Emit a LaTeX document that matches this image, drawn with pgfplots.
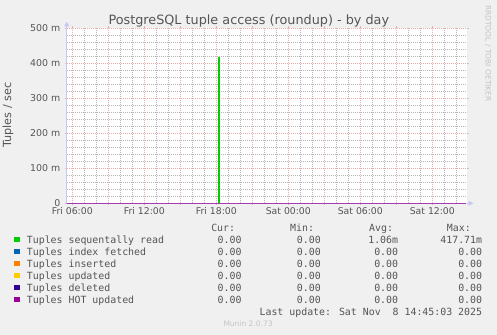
\documentclass[border=0pt]{standalone}
\usepackage{pgfplots}
\pgfplotsset{compat=1.18}
\usepackage{fontspec}
\setmainfont{DejaVu Sans}
\newfontfamily\mono{DejaVu Sans Mono}
\usetikzlibrary{arrows.meta}
\definecolor{bgc}{HTML}{F0F0F0}
\definecolor{txt}{HTML}{555555}
\definecolor{faint}{HTML}{C4C4C4}
\definecolor{mgrid}{HTML}{EDB0B0}
\definecolor{ngrid}{HTML}{B8B8B8}
\definecolor{axc}{HTML}{C8C8F5}
\definecolor{cA}{HTML}{00CC00}
\definecolor{cB}{HTML}{0066B3}
\definecolor{cC}{HTML}{FF8000}
\definecolor{cD}{HTML}{FFCC00}
\definecolor{cE}{HTML}{330099}
\definecolor{cF}{HTML}{990099}
\begin{document}
\begin{tikzpicture}
\fill[bgc] (0bp,0bp) rectangle (497bp,335bp);
\begin{axis}[
  at={(66.7bp,131.7bp)}, anchor=south west,
  width=400bp, height=175bp, scale only axis,
  xmin=5.533, xmax=38.866, ymin=0, ymax=500,
  axis background/.style={fill=white},
  axis line style={draw=none},
  xtick={6,12,18,24,30,36},
  xticklabels={Fri 06:00,Fri 12:00,Fri 18:00,Sat 00:00,Sat 06:00,Sat 12:00},
  extra x ticks={9,15,21,27,33},
  extra x tick labels={},
  minor xtick={7,8,10,11,13,14,16,17,19,20,22,23,25,26,28,29,31,32,34,35,37,38},
  ytick={0,100,200,300,400,500},
  yticklabels={0,100 m,200 m,300 m,400 m,500 m},
  minor ytick={20,40,60,80,120,140,160,180,220,240,260,280,320,340,360,380,420,440,460,480},
  grid=both,
  major grid style={draw=mgrid, line width=0.9bp, dash pattern=on 1bp off 1bp},
  minor grid style={draw=ngrid, line width=0.9bp, dash pattern=on 1bp off 1bp},
  tick align=outside, major tick length=2bp, minor tick length=0bp,
  x tick style={draw=mgrid, line width=0.8bp},
  y tick style={draw=faint, line width=0.8bp},
  xticklabel style={font=\fontsize{9.3bp}{11bp}\selectfont, text=txt, inner sep=0pt, yshift=-2.2bp},
  yticklabel style={font=\fontsize{9.4bp}{11bp}\selectfont, text=txt, inner sep=0pt, xshift=-4.2bp},
  clip=false,
]
\addplot[cB, line width=1bp] coordinates {(5.533,0) (38.8,0)};
\addplot[cC, line width=1bp] coordinates {(5.533,0) (38.8,0)};
\addplot[cD, line width=1bp] coordinates {(5.533,0) (38.8,0)};
\addplot[cE, line width=1bp] coordinates {(5.533,0) (38.8,0)};
\addplot[cA, line width=1.1bp] coordinates {(5.533,0) (18.17,0) (18.17,417.71) (18.30,417.71) (18.30,0) (38.8,0)};
\addplot[cF!70!axc, line width=1bp] coordinates {(5.533,0) (38.8,0)};
\end{axis}
\begin{scope}[x=1bp,y=1bp]
% axes with arrows
\draw[axc, line width=1bp, -{Triangle[width=5bp,length=5bp]}] (66.7,131.7) -- (66.7,313.5);
\draw[axc, line width=1bp, -{Triangle[width=5bp,length=5bp]}] (466.7,131.7) -- (473.5,131.7);
% title
\node[anchor=base, text=txt, inner sep=0pt, font=\fontsize{12.8bp}{15bp}\selectfont] at (248.8,310.7) {PostgreSQL tuple access (roundup) - by day};
% y label
\node[rotate=90, anchor=base, text=txt, inner sep=0pt, font=\fontsize{11.2bp}{13bp}\selectfont] at (11,220) {Tuples / sec};
% watermark
\node[rotate=-90, anchor=west, text=faint, inner sep=0pt, font=\fontsize{7.5bp}{9bp}\selectfont] at (488,330) {RRDTOOL / TOBI OETIKER};
% legend
\begin{scope}[every node/.style={inner sep=0pt, text=txt, font=\mono\fontsize{9.9bp}{12bp}\selectfont}]
\node[anchor=base east] at (235.3,104) {Cur:};
\node[anchor=base west] at (290,104) {Min:};
\node[anchor=base west] at (369,104) {Avg:};
\node[anchor=base west] at (446.7,104) {Max:};
\foreach \lab/\col/\yy/\avg/\mx in {
  Tuples sequentally read/cA/92/1.06m/417.71m,
  Tuples index fetched/cB/80/0.00/0.00,
  Tuples inserted/cC/68/0.00/0.00,
  Tuples updated/cD/56/0.00/0.00,
  Tuples deleted/cE/44/0.00/0.00,
  Tuples HOT updated/cF/32/0.00/0.00}{
  \fill[\col] (14,\yy+0.7) rectangle (19.5,\yy+6.2);
  \node[anchor=base west] at (26.7,\yy) {\lab};
  \node[anchor=base east] at (241.7,\yy) {0.00};
  \node[anchor=base east] at (321,\yy) {0.00};
  \node[anchor=base east] at (398.3,\yy) {\avg};
  \node[anchor=base east] at (482.3,\yy) {\mx};
}
\node[anchor=base east] at (482.3,19.5) {Last update: Sat Nov\ \ 8 14:45:03 2025};
\end{scope}
\node[anchor=base west, inner sep=0pt, text=faint, font=\fontsize{7.5bp}{9bp}\selectfont] at (223.3,8.3) {Munin 2.0.73};
\end{scope}
\end{tikzpicture}
\end{document}
